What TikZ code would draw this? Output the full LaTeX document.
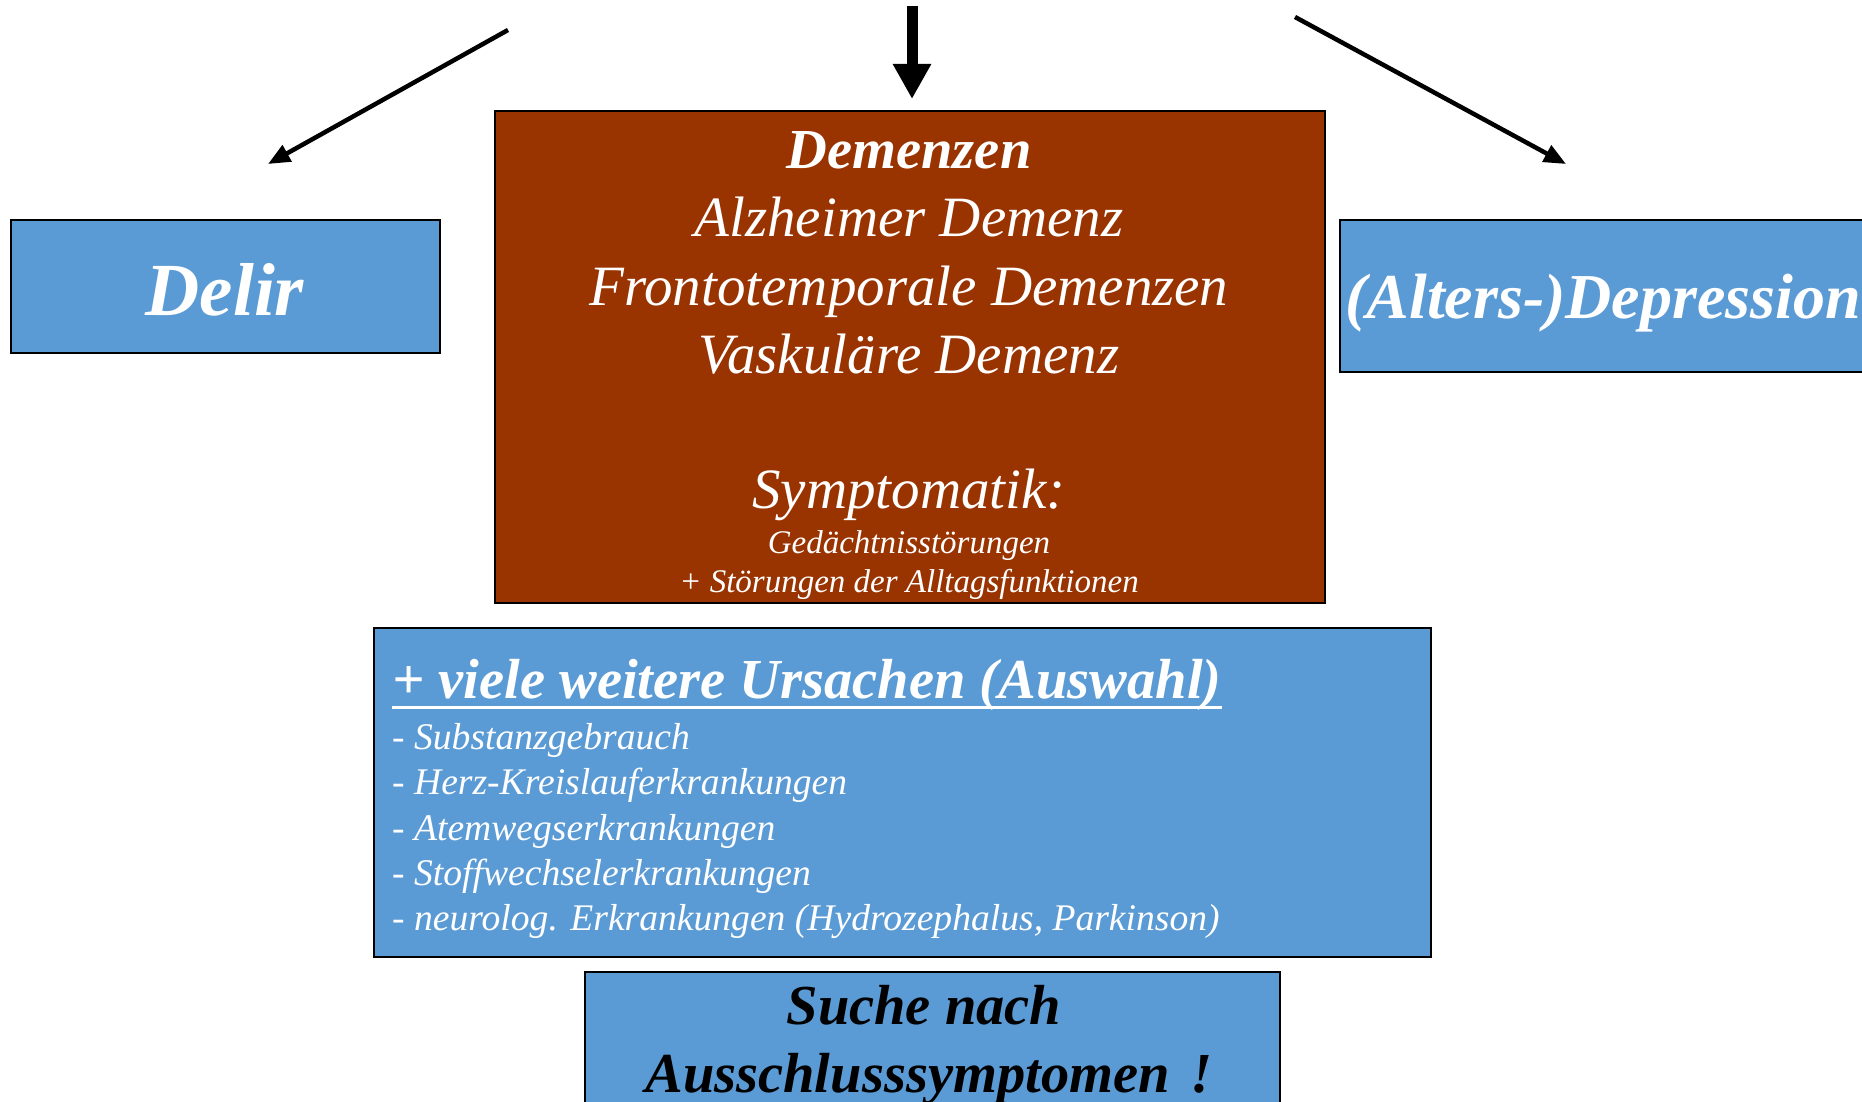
\documentclass[tikz,border=0pt]{standalone}
\usepackage{fontspec}
\setmainfont{Liberation Serif}
\usetikzlibrary{arrows.meta}
\definecolor{boxblue}{HTML}{5B9BD5}
\definecolor{boxbrown}{HTML}{993300}
\begin{document}
\begin{tikzpicture}[x=1pt,y=-1pt,
  box/.style={draw=black, line width=2pt, inner sep=0pt, anchor=north west},
  bluebox/.style={box, fill=boxblue},
  brownbox/.style={box, fill=boxbrown},
  txt/.style={inner sep=0pt, anchor=base},
  wtxt/.style={txt, text=white},
  big/.style={font=\fontsize{57}{65}\selectfont\itshape},
  bigbold/.style={font=\fontsize{56.5}{65}\selectfont\bfseries\itshape},
  small/.style={font=\fontsize{33}{38}\selectfont\itshape},
  listfont/.style={font=\fontsize{37.6}{45}\selectfont\itshape},
  thinarrow/.style={line width=4.5pt, -{Triangle[length=22pt,width=18pt]}},
  thickarrow/.style={line width=11pt, -{Triangle[length=35pt,width=36pt]}}]
\useasboundingbox (0,0) rectangle (1862,1102);

% boxes
\node[bluebox, minimum width=429.5pt, minimum height=133pt] (delirbox) at (9.5,218.5) {};
\node[brownbox, minimum width=830pt, minimum height=492pt] (dembox) at (494,110) {};
\node[bluebox, minimum width=540pt, minimum height=152pt] (depbox) at (1339,218.5) {};
\node[bluebox, minimum width=1057pt, minimum height=329pt] (ursbox) at (373,627) {};
\node[bluebox, minimum width=695pt, minimum height=200pt] (suchebox) at (584,971) {};

% Delir
\node[wtxt, font=\fontsize{75}{85}\selectfont\bfseries\itshape] (delir) at (225,315) {Delir};

% Demenzen
\node[wtxt, bigbold] (dem) at (909,169) {Demenzen};
\node[wtxt, big] (alz) at (909,236) {Alzheimer Demenz};
\node[wtxt, big] (fronto) at (909,305) {Frontotemporale Demenzen};
\node[wtxt, big] (vask) at (909,373) {Vaskuläre Demenz};
\node[wtxt, big] (sympt) at (909,508) {Symptomatik:};
\node[wtxt, small] (ged) at (909,553) {Gedächtnisstörungen};
\node[wtxt, small] (alltag) at (909,592) {+ Störungen der Alltagsfunktionen};

% Depression
\node[wtxt, anchor=base west, font=\fontsize{64}{72}\selectfont\bfseries\itshape] (dep) at (1345,318) {(Alters-)Depression};

% Ursachen
\node[wtxt, anchor=base west, bigbold] (urs) at (392,698) {+ viele weitere Ursachen (Auswahl)};
\draw[white, line width=3pt] ([yshift=-9pt]urs.base west) -- ([yshift=-9pt]urs.base east);
\node[wtxt, anchor=base west, listfont] (u1) at (392,749) {- Substanzgebrauch};
\node[wtxt, anchor=base west, listfont] (u2) at (392,794) {- Herz-Kreislauferkrankungen};
\node[wtxt, anchor=base west, listfont] (u3) at (392,840) {- Atemwegserkrankungen};
\node[wtxt, anchor=base west, listfont] (u4) at (392,885) {- Stoffwechselerkrankungen};
\node[wtxt, anchor=base west, listfont] (u5) at (392,930) {- neurolog. Erkrankungen (Hydrozephalus, Parkinson)};

% Suche
\node[txt, text=black, bigbold] (s1) at (924,1024) {Suche nach};
\node[txt, text=black, bigbold] (s2) at (929,1092) {Ausschlusssymptomen\hspace{0.12em} !};

% arrows
\coordinate (la) at (508,30);
\coordinate (lb) at (268,164);
\coordinate (ra) at (1295,17);
\coordinate (rb) at (1566,164);
\coordinate (ca) at (912,6);
\coordinate (cb) at (912,99);
\draw[thinarrow] (la) -- (lb);
\draw[thinarrow] (ra) -- (rb);
\draw[thickarrow] (ca) -- (cb);
\end{tikzpicture}
\end{document}
